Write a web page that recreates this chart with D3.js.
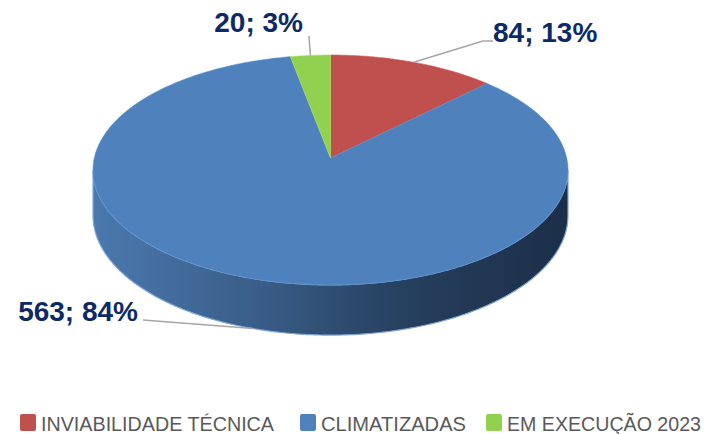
<!DOCTYPE html>
<html>
<head>
<meta charset="utf-8">
<script src="https://cdn.jsdelivr.net/npm/d3@7"></script>
<style>
  html, body { margin: 0; padding: 0; background: #fff; }
  svg { display: block; font-family: "Liberation Sans", Arial, sans-serif; }
</style>
</head>
<body>
<div id="chart"></div>
<script>
const WIDTH = 706, HEIGHT = 434;

// data
const categories = ["INVIABILIDADE TÉCNICA", "CLIMATIZADAS", "EM EXECUÇÃO 2023"];
const values = [84, 563, 20];
const percents = ["13%", "84%", "3%"];
const colors = ["#C0504D", "#4F81BD", "#92D050"];

// 3d pie geometry (simple perspective: back of the disc is a bit smaller)
const CX = 330.5, CY = 158;
const SX = 236.2, SY = 113.7, PERSP = -0.104, DEPTH = 45;

// angle 0 at 12 o'clock, clockwise, like d3.pie
function proj(a, down = 0) {
  const u = Math.sin(a), v = -Math.cos(a);
  const w = 1 + PERSP * v;
  return [CX + SX * u / w, CY + SY * v / w + down / w];
}

const svg = d3.select("#chart")
  .append("svg")
  .attr("width", WIDTH)
  .attr("height", HEIGHT);

const defs = svg.append("defs");
const grad = defs.append("linearGradient")
  .attr("id", "sideGrad")
  .attr("x1", "0").attr("x2", "1").attr("y1", "0").attr("y2", "0");
[["0%", "#4b79ae"], ["35%", "#3a5d88"], ["65%", "#26405f"], ["100%", "#1c2e48"]]
  .forEach(([o, c]) => grad.append("stop").attr("offset", o).attr("stop-color", c));

const pie = d3.pie().sort(null).value(d => d)(values);
const line = d3.line();

const steps = (a0, a1) => {
  const n = Math.max(2, Math.ceil((a1 - a0) / 0.01));
  return d3.range(n + 1).map(j => a0 + (a1 - a0) * j / n);
};

// silhouette limits of the side wall
const sideStart = Math.acos(PERSP);            // ~96deg
const sideEnd = 2 * Math.PI - Math.acos(PERSP);

const g = svg.append("g");

// side walls
pie.forEach((s, i) => {
  const a0 = Math.max(s.startAngle, sideStart);
  const a1 = Math.min(s.endAngle, sideEnd);
  if (a1 <= a0) return;
  const angs = steps(a0, a1);
  const pts = angs.map(a => proj(a)).concat(angs.slice().reverse().map(a => proj(a, DEPTH)));
  g.append("path")
    .attr("d", line(pts) + "Z")
    .attr("fill", i === 1 ? "url(#sideGrad)" : d3.color(colors[i]).darker(1))
    .attr("stroke", "#7ea6d6")
    .attr("stroke-width", 1.2);
});

// top faces
g.selectAll("path.top")
  .data(pie)
  .join("path")
  .attr("class", "top")
  .attr("d", d => line([[CX, CY]].concat(steps(d.startAngle, d.endAngle).map(a => proj(a)))) + "Z")
  .attr("fill", (d, i) => colors[i])
  .attr("stroke", (d, i) => d3.color(colors[i]).brighter(0.3))
  .attr("stroke-width", 0.6);

// labels with leader lines
const mid = d => (d.startAngle + d.endAngle) / 2;
const labelInfo = [
  { x: 493, y: 42, anchor: "start", line: d => [[493, 41], [483, 41], proj(mid(d))] },
  { x: 138, y: 321, anchor: "end", line: d => [[143, 320], proj(mid(d), DEPTH)] },
  { x: 303, y: 32, anchor: "end", line: d => [[309, 36], proj(mid(d))] }
];

pie.forEach((d, i) => {
  const info = labelInfo[i];
  svg.append("path")
    .attr("d", line(info.line(d)))
    .attr("fill", "none")
    .attr("stroke", "#a6a6a6")
    .attr("stroke-width", 1.5);
  svg.append("text")
    .attr("x", info.x)
    .attr("y", info.y)
    .attr("text-anchor", info.anchor)
    .attr("fill", "#0d2a66")
    .style("font-size", "28px")
    .style("font-weight", "bold")
    .text(`${values[i]}; ${percents[i]}`);
});

// legend
const legendX = [20, 300, 486];
const legendW = [233, 145, 194];
const legend = svg.append("g");
categories.forEach((c, i) => {
  legend.append("rect")
    .attr("x", legendX[i]).attr("y", 414)
    .attr("width", 16).attr("height", 17)
    .attr("rx", 2)
    .attr("fill", colors[i]);
  legend.append("text")
    .attr("x", legendX[i] + 21)
    .attr("y", 431)
    .attr("fill", "#595959")
    .style("font-size", "20px")
    .attr("textLength", legendW[i])
    .attr("lengthAdjust", "spacingAndGlyphs")
    .text(c);
});
</script>
</body>
</html>
